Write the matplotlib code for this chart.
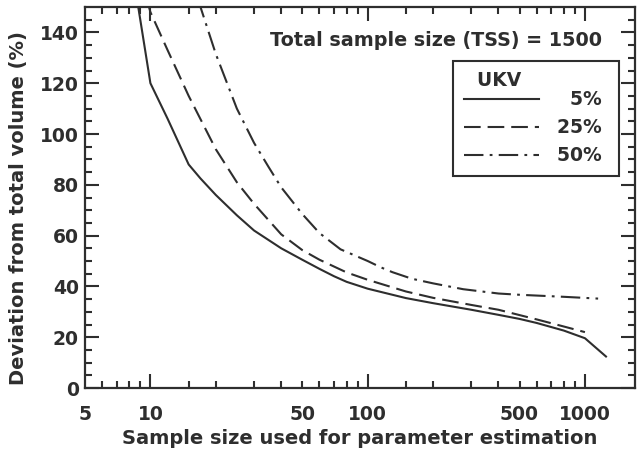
import matplotlib
matplotlib.use("Agg")
import matplotlib.pyplot as plt
from matplotlib.ticker import FixedLocator, NullFormatter

plt.rcParams['font.family'] = ['DejaVu Sans']
plt.rcParams['font.weight'] = 'bold'
plt.rcParams['lines.scale_dashes'] = False

INK = '#2e2e2e'

# ---- data ----
x_5 = [8, 10, 12, 15, 17, 20, 25, 30, 40, 50, 60, 70, 80, 100, 150, 200, 300, 400, 500, 600, 800, 1000, 1250]
y_5 = [172, 120, 106, 88, 82.5, 76, 68, 62, 55, 50.5, 46.9, 44, 41.8, 39.1, 35.4, 33.4, 30.8, 28.8, 27.2, 25.6, 22.6, 19.6, 12.4]

x_25 = [9, 10, 12, 15, 20, 25, 30, 40, 50, 60, 80, 100, 150, 200, 300, 400, 600, 800, 1000]
y_25 = [162, 148, 133, 115, 94, 81, 72.5, 60.5, 54.3, 50.5, 45.5, 42.6, 38.0, 35.5, 32.7, 30.8, 27.0, 24.2, 22.0]

x_50 = [15, 17, 20, 25, 30, 35, 40, 50, 60, 75, 100, 115, 130, 160, 200, 275, 400, 500, 800, 1150]
y_50 = [162, 150, 131.5, 110, 96.5, 87, 79, 68.5, 61, 54.6, 50, 47.5, 45.6, 43, 41.2, 38.9, 37.2, 36.7, 35.9, 35.2]

labels = ['  5% ', '25% ', '50% ']
legend_title = '  UKV'
annotation = 'Total sample size (TSS) = 1500'

x_label_ticks = [5, 10, 50, 100, 500, 1000]
x_label_text = ['5', '10', '50', '100', '500', '1000']
x_major = [10, 100, 1000]
y_major = [0, 20, 40, 60, 80, 100, 120, 140]

fig = plt.figure(figsize=(6.39, 4.57), dpi=100)
ax = fig.add_axes([85/639, 1-388/457, 550/639, 381/457])

ax.plot(x_5, y_5, color=INK, lw=1.5, linestyle='-', label=labels[0])
ax.plot(x_25, y_25, color=INK, lw=1.5, linestyle=(0, (12, 5)), label=labels[1])
ax.plot(x_50, y_50, color=INK, lw=1.5, linestyle=(0, (14, 4.5, 2, 4.5)), label=labels[2])

ax.set_xscale('log')
ax.set_xlim(5, 1700)
ax.set_ylim(0, 150)

# x ticks
minor_x = [6, 7, 8, 9]
for dec in [10, 100]:
    for m in [1.5, 2, 3, 4, 5, 6, 7, 8, 9]:
        minor_x.append(m * dec)
ax.xaxis.set_major_locator(FixedLocator(x_major))
ax.xaxis.set_minor_locator(FixedLocator(minor_x))
ax.xaxis.set_major_formatter(NullFormatter())
ax.xaxis.set_minor_formatter(NullFormatter())
for xv, tx in zip(x_label_ticks, x_label_text):
    ax.text(xv, -0.045, tx, transform=ax.get_xaxis_transform(), ha='center', va='top',
            fontsize=13.5, fontweight='bold', color=INK)

# y ticks
ax.yaxis.set_major_locator(FixedLocator(y_major))
ax.yaxis.set_minor_locator(FixedLocator(list(range(5, 150, 5))))
ax.set_yticklabels([str(v) for v in y_major])

ax.tick_params(which='both', direction='in', top=True, right=True, color=INK,
               width=1.5, labelsize=13.5, labelcolor=INK)
ax.tick_params(which='major', length=10)
ax.tick_params(axis='y', which='major', pad=4.5)
ax.tick_params(which='minor', length=5)

for s in ax.spines.values():
    s.set_linewidth(1.6)
    s.set_color(INK)

ax.set_xlabel('Sample size used for parameter estimation', fontsize=14, fontweight='bold',
              color=INK, labelpad=26)
ax.set_ylabel('Deviation from total volume (%)', fontsize=14, fontweight='bold', color=INK)
ax.yaxis.set_label_coords(-0.103, 0.472)

ax.text(0.638, 0.913, annotation, transform=ax.transAxes, ha='center', va='center',
        fontsize=13.8, fontweight='bold', color=INK)

leg = ax.legend(title=legend_title, loc='upper right', bbox_to_anchor=(0.971, 0.858),
                borderaxespad=0, fancybox=False, framealpha=1, edgecolor=INK,
                fontsize=13.5, title_fontsize=13.5, handlelength=4.0, handletextpad=1.0,
                labelspacing=0.48, borderpad=0.55, alignment='left')
leg._legend_box.sep = 0
leg.get_frame().set_linewidth(1.5)
leg.get_title().set_fontweight('bold')
leg.get_title().set_color(INK)
for t in leg.get_texts():
    t.set_color(INK)

fig.savefig('out.png', dpi=100, facecolor='white')
